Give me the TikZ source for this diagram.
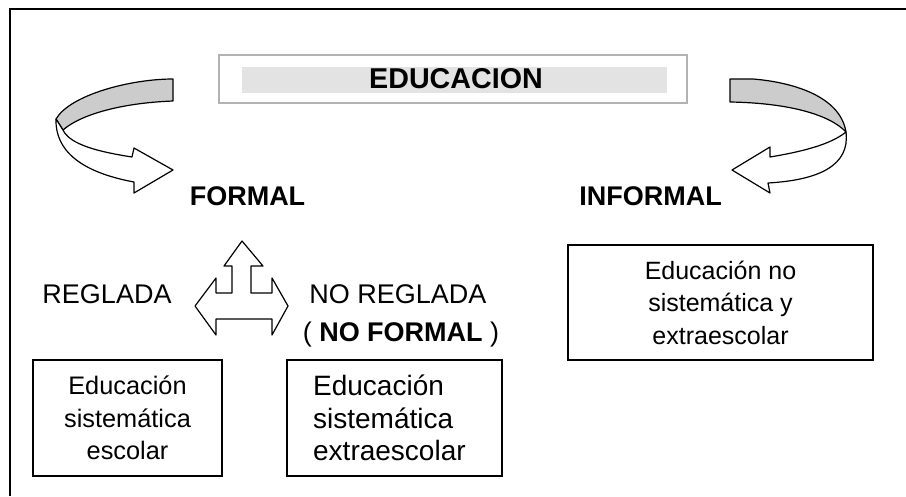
\documentclass[tikz,border=0pt]{standalone}
\usepackage{fontspec}
\setmainfont{Liberation Sans}
\begin{document}
\begin{tikzpicture}[x=0.75pt, y=-0.75pt,
  box/.style={draw, line width=0.9pt, inner sep=0pt},
  ribbon/.style={draw, line width=0.9pt, line join=round},
  word/.style={font=\fontsize{20.25}{24}\selectfont, anchor=base},
  bold/.style={font=\bfseries\fontsize{20.25}{24}\selectfont, anchor=base}]
  \useasboundingbox (0,0) rectangle (906,496);
  \draw[line width=1pt] (906,9) -- (10,9) -- (10,496);

  % title
  \node[draw=black!30, line width=0.9pt, minimum width=351pt, minimum height=36pt] (titlebox) at (453,79) {};
  \node[fill=black!11, inner sep=0pt, minimum width=318.75pt, minimum height=19.5pt] (band) at (454.5,80) {};
  \node[bold, font=\bfseries\fontsize{21.5}{26}\selectfont] (educacion) at (456,88) {EDUCACION};

  % left ribbon
  \filldraw[ribbon, fill=black!20] (173,79) .. controls (130,79) and (70,95) .. (56,119) -- (63,130) .. controls (80,115) and (120,103) .. (173,101) -- cycle;
  \filldraw[ribbon, fill=white] (56,119) .. controls (55,150) and (80,172) .. (134,182) -- (134,193) -- (173,170) -- (134,148) -- (132,157) .. controls (100,152) and (70,145) .. (63,130) -- cycle;
  % right ribbon
  \filldraw[ribbon, fill=black!20] (730,79) -- (753,79) .. controls (790,82) and (840,95) .. (846,132) .. controls (830,115) and (790,103) .. (730,102) -- cycle;
  \filldraw[ribbon, fill=white] (846,132) .. controls (850,165) and (820,180) .. (768,183) -- (770,193) -- (732,170) -- (770,147) -- (770,157) .. controls (800,152) and (830,145) .. (846,132) -- cycle;

  \node[bold] (formal) at (247.5,205) {FORMAL};
  \node[bold] (informal) at (650.5,205) {INFORMAL};

  % three way arrow
  \draw[ribbon] (242,241) -- (263,266) -- (251,266) -- (251,293) -- (272,293) -- (272,278) -- (288,306) -- (272,335) -- (272,319) -- (216,319) -- (216,335) -- (195,306) -- (216,278) -- (216,293) -- (232,293) -- (232,266) -- (224,266) -- cycle;

  \node[word] (reglada) at (107,303) {REGLADA};
  \node[word] (noreglada) at (398,303) {NO REGLADA};
  \node[word] (noformal) at (401,341) {( \textbf{NO FORMAL} )};

  % boxes
  \node[box, minimum width=141.75pt, minimum height=87pt, align=center, font=\fontsize{19}{24.5}\selectfont] (escolar) at (127.5,418) {Educación\\sistemática\\escolar};
  \node[box, minimum width=161.25pt, minimum height=87pt, align=left, text width=122pt, font=\fontsize{21}{24.4}\selectfont] (extraescolar) at (394.5,418) {Educación\\sistemática\\extraescolar};
  \node[box, minimum width=228.75pt, minimum height=86.25pt, align=center, font=\fontsize{18.75}{24.4}\selectfont] (sinsistema) at (720.5,302.5) {Educación no\\sistemática y\\extraescolar};
\end{tikzpicture}
\end{document}
